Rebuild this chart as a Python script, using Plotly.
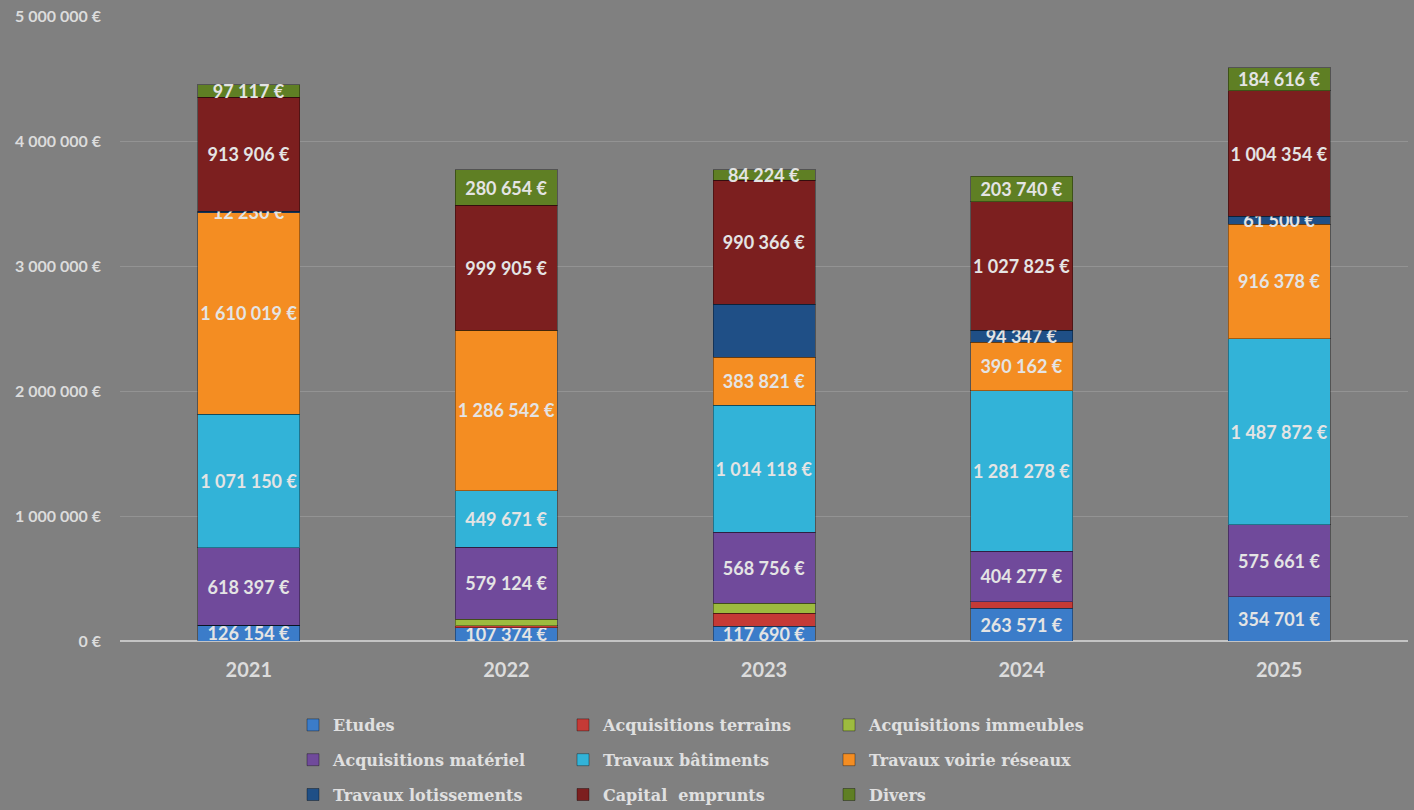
import plotly.graph_objects as go

# Investment spending by year and category (euros)
years = ["2021", "2022", "2023", "2024", "2025"]
etudes = [126154, 107374, 117690, 263571, 354701]
acq_terrains = [0, 15000, 105000, 52000, 0]
acq_immeubles = [0, 50000, 80000, 0, 0]
acq_materiel = [618397, 579124, 568756, 404277, 575661]
trav_batiments = [1071150, 449671, 1014118, 1281278, 1487872]
trav_voirie = [1610019, 1286542, 383821, 390162, 916378]
trav_lotissements = [12230, 0, 426000, 94347, 61500]
capital_emprunts = [913906, 999905, 990366, 1027825, 1004354]
divers = [97117, 280654, 84224, 203740, 184616]

y_ticks = [0, 1000000, 2000000, 3000000, 4000000, 5000000]


def euro(v):
    return f"{v:,}".replace(",", " ") + " €"


def labels(values, hidden=()):
    return ["" if (v == 0 or i in hidden) else euro(v) for i, v in enumerate(values)]


# (name, values, colour, legend column, labels)
series = [
    ("Etudes", etudes, "#3b7cc9", "legend", labels(etudes)),
    ("Acquisitions terrains", acq_terrains, "#c53a36", "legend2", [""] * 5),
    ("Acquisitions immeubles", acq_immeubles, "#9dbb3f", "legend3", [""] * 5),
    ("Acquisitions matériel", acq_materiel, "#704a9b", "legend", labels(acq_materiel)),
    ("Travaux bâtiments", trav_batiments, "#32b3d8", "legend2", labels(trav_batiments)),
    ("Travaux voirie réseaux", trav_voirie, "#f48d22", "legend3", labels(trav_voirie)),
    ("Travaux lotissements", trav_lotissements, "#1f4f86", "legend", labels(trav_lotissements, hidden=(2,))),
    ("Capital  emprunts", capital_emprunts, "#7c1f1f", "legend2", labels(capital_emprunts)),
    ("Divers", divers, "#5f7f24", "legend3", labels(divers)),
]

fig = go.Figure()
for name, vals, color, leg, txt in series:
    fig.add_trace(go.Bar(
        x=years, y=vals, name=name,
        marker=dict(color=color, line=dict(color="rgba(0,0,0,0.35)", width=1)),
        text=txt, textposition="inside", insidetextanchor="middle",
        textangle=0, constraintext="none",
        textfont=dict(family="Lato", size=18, color="#e4e4e4", weight="bold"),
        legend=leg, legendgroup=name, hoverinfo="skip",
    ))

legend_style = dict(
    orientation="v", xref="container", yref="container",
    xanchor="left", yanchor="top", y=1 - 708 / 810, bgcolor="rgba(0,0,0,0)",
    font=dict(family="DejaVu Serif", size=16, color="#e0e0e0", weight="bold"),
    tracegroupgap=11, itemclick=False,
)

fig.update_layout(
    width=1414, height=810,
    paper_bgcolor="#808080", plot_bgcolor="#808080",
    margin=dict(l=120, r=6, t=16, b=169, autoexpand=False),
    barmode="stack", bargap=0.604,
    font=dict(family="Lato", color="#dcdcdc"),
    legend=dict(legend_style, x=293 / 1414),
    legend2=dict(legend_style, x=563 / 1414),
    legend3=dict(legend_style, x=829 / 1414),
    xaxis=dict(
        type="category", automargin=False,
        showgrid=False, showline=False, ticks="",
        tickfont=dict(family="Lato", size=20, color="#dcdcdc", weight="bold"),
        ticklabelstandoff=15,
    ),
    yaxis=dict(
        automargin=False,
        range=[0, 5000000], tickmode="array",
        tickvals=y_ticks, ticktext=[euro(v) for v in y_ticks],
        showgrid=True, gridcolor="#939393", gridwidth=1,
        zeroline=True, zerolinecolor="#c4c4c4", zerolinewidth=2,
        tickfont=dict(family="Lato", size=16, color="#dcdcdc", weight="bold"),
        ticklabelstandoff=18,
    ),
)

fig.write_html("out.html")
